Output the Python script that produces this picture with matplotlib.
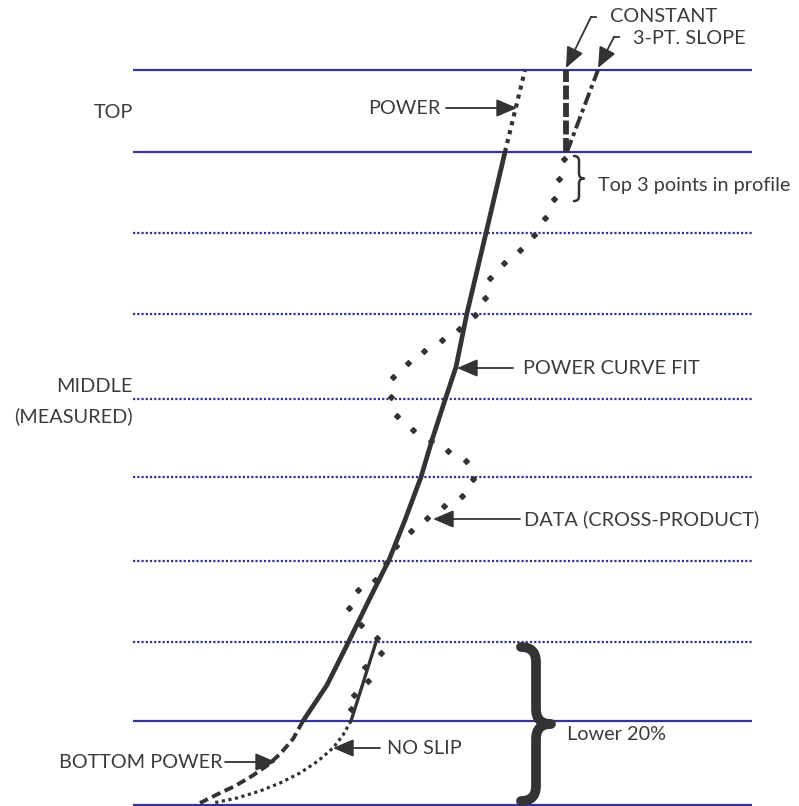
import matplotlib
matplotlib.use("Agg")
import matplotlib.pyplot as plt
from matplotlib.path import Path
from matplotlib.patches import PathPatch

plt.rcParams['font.family'] = ['Lato', 'DejaVu Sans']

# ---------------- data (x = velocity units, y = height above bed) ----------------
grid_heights = [735, 653, 572, 491, 406, 328, 244, 163, 84, 0]
grid_solid = [True, True, False, False, False, False, False, False, True, True]
grid_x = [133, 752]

data_x = [564, 559, 554, 545, 534, 520, 504, 490, 485, 475, 459, 442, 424, 408, 393,
          391, 397, 413, 431, 448, 466, 473, 462, 444, 427, 411, 396, 386, 375, 358,
          349, 361, 377, 381, 365, 368, 354, 351]
data_y = [646, 626, 606, 587, 570, 555, 542, 527, 507, 490, 476, 465, 454, 442, 428,
          408, 389, 375, 364, 354, 344, 326, 309, 299, 287, 274, 259, 242, 225, 215,
          197, 180, 167, 152, 138, 124, 110, 96]

fit_x = [505, 486, 467, 456, 445, 432, 421, 405, 389, 369, 348, 327, 315, 303]
fit_y = [653, 572, 492, 438, 405, 365, 328, 285, 245, 205, 162, 120, 102, 84]

power_top_x = [505, 525]
power_top_y = [653, 735]

constant_x = [566, 566]
constant_y = [653, 735]

slope3_x = [567, 598]
slope3_y = [653, 735]

bottom_power_x = [303, 293, 281, 268, 252, 235, 218, 200]
bottom_power_y = [84, 66, 52, 40, 29, 19, 11, 2]

noslip_x = [377, 351]
noslip_y = [166, 84]

noslip_bot_x = [351, 343, 333, 318, 300, 280, 260, 237, 213]
noslip_bot_y = [84, 70, 57, 44, 32, 22, 14, 7, 2]

# ---------------- figure ----------------
W, H = 799, 806
fig = plt.figure(figsize=(W / 100, H / 100), dpi=100)
ax = fig.add_axes([0, 0, 1, 1])
ax.set_xlim(0, W)
ax.set_ylim(805 - H, 805)
ax.axis('off')

navy = '#333399'
ink = '#333333'
txt = '#3b3b3b'
fs = 14.3

for h, solid in zip(grid_heights, grid_solid):
    if solid:
        ax.plot(grid_x, [h, h], color=navy, lw=1.6, solid_capstyle='butt', zorder=1)
    else:
        ax.plot(grid_x, [h, h], color=navy, lw=1.6, linestyle=(0, (1.0, 0.9)),
                dash_capstyle='butt', zorder=1)

# curves
ax.plot(fit_x, fit_y, color=ink, lw=3.4, solid_capstyle='butt', solid_joinstyle='round', zorder=3)
ax.plot(power_top_x, power_top_y, color=ink, lw=3.0, linestyle=(0, (1.0, 1.2)),
        dash_capstyle='butt', zorder=3)
ax.plot(constant_x, constant_y, color=ink, lw=4.2, linestyle=(0, (2.4, 0.6)),
        dash_capstyle='butt', zorder=3)
ax.plot(slope3_x, slope3_y, color=ink, lw=2.8, linestyle=(0, (3.3, 1.1, 1.0, 1.1)),
        dash_capstyle='butt', zorder=3)
ax.plot(bottom_power_x, bottom_power_y, color=ink, lw=2.8, linestyle=(0, (2.4, 1.2)),
        dash_capstyle='butt', zorder=3)
ax.plot(noslip_x, noslip_y, color=ink, lw=2.4, solid_capstyle='butt', zorder=3)
ax.plot(noslip_bot_x, noslip_bot_y, color=ink, lw=2.3, linestyle=(0, (1.0, 1.1)),
        dash_capstyle='butt', zorder=3)
ax.plot(data_x, data_y, linestyle='none', marker='D', ms=3.0, color=ink, mec=ink, zorder=4)

# text labels
def label(x, y, s, ha='left'):
    ax.text(x, y, s, fontsize=fs, color=txt, ha=ha, va='center')

label(133, 805 - 113, 'TOP', ha='right')
label(133, 805 - 387, 'MIDDLE', ha='right')
label(133, 805 - 416, '(MEASURED)', ha='right')
label(440, 805 - 108, 'POWER', ha='right')
label(610, 805 - 17, 'CONSTANT')
label(633, 805 - 38, '3-PT. SLOPE')
label(598, 805 - 185, 'Top 3 points in profile')
label(523, 805 - 368, 'POWER CURVE FIT')
label(524, 805 - 519, 'DATA (CROSS-PRODUCT)')
label(387, 805 - 748, 'NO SLIP')
label(223, 805 - 762, 'BOTTOM POWER', ha='right')
label(567, 805 - 734, 'Lower 20%')

# arrows
def arrow(x0, y0, x1, y1):
    ax.annotate('', xy=(x1, y1), xytext=(x0, y0),
                arrowprops=dict(arrowstyle='-|>,head_length=0.7,head_width=0.3',
                                color=ink, lw=1.3, shrinkA=0, shrinkB=0,
                                mutation_scale=18), zorder=5)

arrow(446, 805 - 108, 517, 805 - 108)
arrow(513, 805 - 368, 457, 805 - 368)
arrow(520, 805 - 519, 433, 805 - 519)
arrow(380, 805 - 748, 333, 805 - 748)
arrow(225, 805 - 762, 276, 805 - 762)
ax.plot([596, 591], [805 - 17, 805 - 17], color=ink, lw=1.3)
arrow(591, 805 - 17, 566, 805 - 68)
ax.plot([619, 614], [805 - 37, 805 - 37], color=ink, lw=1.3)
arrow(614, 805 - 37, 598, 805 - 68)


def brace(x0, x1, yt, yb, lw):
    xm = (x0 + x1) / 2
    ymid = (yt + yb) / 2
    q = (x1 - x0) / 2
    verts = [(x0, yt), (xm, yt), (xm, yt - q),
             (xm, ymid + q),
             (xm, ymid), (x1, ymid),
             (xm, ymid), (xm, ymid - q),
             (xm, yb + q),
             (xm, yb), (x0, yb)]
    codes = [Path.MOVETO, Path.CURVE3, Path.CURVE3,
             Path.LINETO,
             Path.CURVE3, Path.CURVE3,
             Path.CURVE3, Path.CURVE3,
             Path.LINETO,
             Path.CURVE3, Path.CURVE3]
    ax.add_patch(PathPatch(Path(verts, codes), fill=False, edgecolor=ink, lw=lw,
                           capstyle='round', joinstyle='round', zorder=5))

brace(574, 584, 805 - 156, 805 - 201, 1.8)
brace(521, 551, 805 - 647, 805 - 801, 7.0)

fig.savefig('out.png', dpi=100)
